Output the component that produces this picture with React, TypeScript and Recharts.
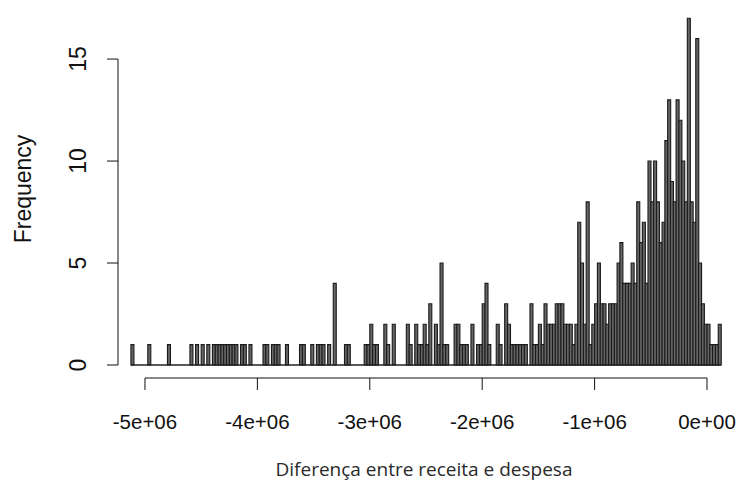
import React from "react";
import {
  ComposedChart,
  Bar,
  XAxis,
  YAxis,
  ReferenceLine,
  Label,
} from "recharts";

// histogram bins: 25k wide, starting at -5.125e6
const binStart = -5125000;
const binWidth = 25000;
const counts = [
  1, 0, 0, 0, 0, 0, 1, 0, 0, 0, 0, 0, 0, 1, 0, 0, 0, 0, 0, 0,
  0, 1, 0, 1, 0, 1, 0, 1, 0, 1, 1, 1, 1, 1, 1, 1, 1, 1, 0, 1,
  1, 0, 1, 0, 0, 0, 0, 1, 1, 0, 1, 1, 1, 0, 0, 1, 0, 0, 0, 0,
  1, 1, 0, 0, 1, 0, 1, 1, 1, 0, 1, 0, 4, 0, 0, 0, 1, 1, 0, 0,
  0, 0, 0, 1, 1, 2, 1, 1, 0, 0, 2, 1, 0, 2, 0, 0, 0, 0, 2, 1,
  0, 2, 1, 1, 2, 1, 3, 0, 2, 1, 5, 1, 1, 0, 0, 2, 2, 1, 1, 1,
  0, 2, 0, 1, 1, 3, 4, 1, 0, 0, 2, 1, 0, 3, 2, 1, 1, 1, 1, 1,
  1, 0, 3, 1, 1, 2, 1, 3, 2, 2, 2, 3, 3, 3, 2, 2, 2, 1, 2, 7,
  5, 2, 8, 1, 2, 3, 5, 3, 3, 2, 3, 3, 3, 5, 6, 4, 4, 4, 5, 4,
  8, 6, 7, 4, 10, 8, 10, 8, 6, 7, 11, 13, 9, 8, 13, 12, 10, 8, 17, 8,
  7, 16, 5, 3, 2, 2, 1, 1, 1, 2,
];

const xTicks = [-5e6, -4e6, -3e6, -2e6, -1e6, 0];
const xTickLabels = ["-5e+06", "-4e+06", "-3e+06", "-2e+06", "-1e+06", "0e+00"];
const yTicks = [0, 5, 10, 15];

const xDomain = [-5240000, 204600];
const yDomain = [-0.637, 17.7];

const data = counts.map((c, i) => ({
  mid: binStart + (i + 0.5) * binWidth,
  count: c,
}));
const binEnd = binStart + counts.length * binWidth;

const rFont = "'Liberation Sans', Arial, sans-serif";

const YTick = (props: any) => {
  const { x, y, payload } = props;
  return (
    <text
      x={x}
      y={y}
      transform={`rotate(-90, ${x}, ${y})`}
      textAnchor="middle"
      fontSize={23}
      fontFamily={rFont}
      fill="#111"
    >
      {payload.value}
    </text>
  );
};

export default function App() {
  return (
    <div style={{ position: "absolute", left: 0, top: 0, background: "#fff" }}>
      <ComposedChart
        width={736}
        height={486}
        data={data}
        margin={{ top: 4, right: 6, left: 0, bottom: 0 }}
        barCategoryGap={0}
        barGap={0}
      >
        <XAxis
          dataKey="mid"
          type="number"
          domain={xDomain}
          allowDataOverflow
          ticks={xTicks}
          tickFormatter={(v) => xTickLabels[xTicks.indexOf(v)] ?? ""}
          axisLine={false}
          tickLine={{ stroke: "#111" }}
          tickSize={12}
          tickMargin={24}
          height={108}
          tick={{ fontSize: 20.5, fontFamily: rFont, fill: "#111" }}
        >
          <Label
            content={({ viewBox }: any) => (
              <text
                x={viewBox.x + viewBox.width / 2}
                y={viewBox.y + 98}
                textAnchor="middle"
                fontSize={19}
                fontFamily="'Open Sans', sans-serif"
                fill="#2a2a2a"
              >
                Diferença entre receita e despesa
              </text>
            )}
          />
        </XAxis>
        <YAxis
          type="number"
          domain={yDomain}
          allowDataOverflow
          ticks={yTicks}
          axisLine={false}
          tickLine={{ stroke: "#111" }}
          tickSize={11}
          tickMargin={21}
          width={118}
          tick={<YTick />}
        >
          <Label
            content={({ viewBox }: any) => {
              const cx = viewBox.x + 31;
              const cy = viewBox.y + viewBox.height / 2 - 2;
              return (
                <text
                  x={cx}
                  y={cy}
                  transform={`rotate(-90, ${cx}, ${cy})`}
                  textAnchor="middle"
                  fontSize={23}
                  fontFamily={rFont}
                  fill="#111"
                >
                  Frequency
                </text>
              );
            }}
          />
        </YAxis>
        <ReferenceLine
          segment={[
            { x: xTicks[0], y: yDomain[0] },
            { x: xTicks[xTicks.length - 1], y: yDomain[0] },
          ]}
          stroke="#111"
          strokeWidth={1}
          ifOverflow="visible"
        />
        <ReferenceLine
          segment={[
            { x: xDomain[0], y: yTicks[0] },
            { x: xDomain[0], y: yTicks[yTicks.length - 1] },
          ]}
          stroke="#111"
          strokeWidth={1}
          ifOverflow="visible"
        />
        <ReferenceLine
          segment={[
            { x: binStart, y: 0 },
            { x: binEnd, y: 0 },
          ]}
          stroke="#222"
          strokeWidth={1.5}
        />
        <Bar
          dataKey="count"
          fill="#666"
          stroke="#1a1a1a"
          strokeWidth={1.1}
          isAnimationActive={false}
        />
      </ComposedChart>
    </div>
  );
}
